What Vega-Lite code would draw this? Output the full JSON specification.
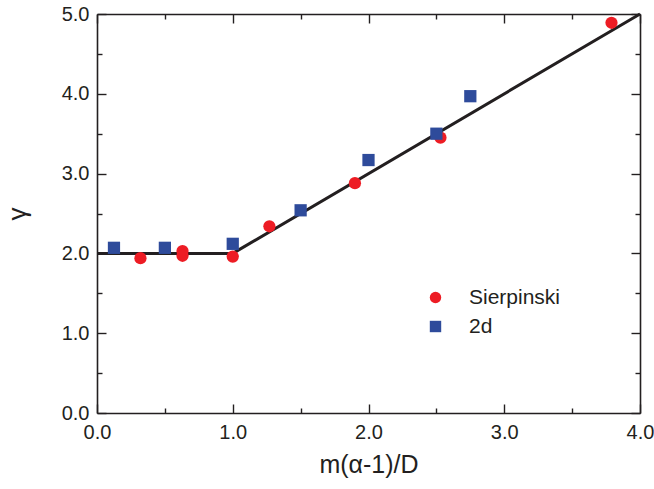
{
  "$schema": "https://vega.github.io/schema/vega-lite/v6.json",
  "width": 543,
  "height": 399,
  "autosize": {"type": "none"},
  "padding": {"left": 97, "top": 14, "right": 14, "bottom": 76},
  "background": "white",
  "config": {
    "view": {"stroke": null},
    "font": "Liberation Sans",
    "axis": {
      "domainColor": "#231f20",
      "domainWidth": 1.6,
      "tickColor": "#231f20",
      "tickWidth": 1.4,
      "grid": false,
      "labelFont": "Liberation Sans",
      "labelFontSize": 20,
      "labelColor": "#231f20",
      "titleFont": "Liberation Sans",
      "titleFontWeight": "normal",
      "titleColor": "#231f20"
    }
  },
  "datasets": {
    "fit": [
      {"x": 0, "y": 2},
      {"x": 1, "y": 2},
      {"x": 4, "y": 5}
    ],
    "pts": [
      {"x": 0.32, "y": 1.94, "series": "Sierpinski"},
      {"x": 0.63, "y": 2.03, "series": "Sierpinski"},
      {"x": 0.63, "y": 1.97, "series": "Sierpinski"},
      {"x": 1.0, "y": 1.96, "series": "Sierpinski"},
      {"x": 1.27, "y": 2.34, "series": "Sierpinski"},
      {"x": 1.9, "y": 2.88, "series": "Sierpinski"},
      {"x": 2.53, "y": 3.45, "series": "Sierpinski"},
      {"x": 3.79, "y": 4.89, "series": "Sierpinski"},
      {"x": 0.125, "y": 2.07, "series": "2d"},
      {"x": 0.5, "y": 2.07, "series": "2d"},
      {"x": 1.0, "y": 2.12, "series": "2d"},
      {"x": 1.5, "y": 2.54, "series": "2d"},
      {"x": 2.0, "y": 3.17, "series": "2d"},
      {"x": 2.5, "y": 3.5, "series": "2d"},
      {"x": 2.75, "y": 3.97, "series": "2d"}
    ]
  },
  "resolve": {"axis": {"x": "independent", "y": "independent"}},
  "layer": [
    {
      "data": {"name": "fit"},
      "mark": {"type": "line", "color": "#231f20", "strokeWidth": 3},
      "encoding": {
        "x": {
          "field": "x", "type": "quantitative",
          "scale": {"domain": [0, 4], "nice": false, "zero": false},
          "axis": {
            "orient": "bottom",
            "values": [0, 0.5, 1, 1.5, 2, 2.5, 3, 3.5, 4],
            "format": ".1f",
            "labelExpr": "datum.value % 1 === 0 ? datum.label : ''",
            "tickSize": {"condition": {"test": "datum.value % 1 !== 0", "value": -5}, "value": -9},
            "labelPadding": 18,
            "labelFlush": false,
            "title": "m(α-1)/D",
            "titleFontSize": 25,
            "titlePadding": 10
          }
        },
        "y": {
          "field": "y", "type": "quantitative",
          "scale": {"domain": [0, 5], "nice": false, "zero": false},
          "axis": {
            "orient": "left",
            "values": [0, 0.5, 1, 1.5, 2, 2.5, 3, 3.5, 4, 4.5, 5],
            "format": ".1f",
            "labelExpr": "datum.value % 1 === 0 ? datum.label : ''",
            "tickSize": {"condition": {"test": "datum.value % 1 !== 0", "value": -5}, "value": -9},
            "labelPadding": 17,
            "labelFlush": false,
            "title": "γ",
            "titleFontSize": 26,
            "titlePadding": 31
          }
        }
      }
    },
    {
      "data": {"name": "pts"},
      "mark": {"type": "point", "filled": true, "opacity": 1, "size": 150},
      "encoding": {
        "x": {
          "field": "x", "type": "quantitative",
          "scale": {"domain": [0, 4], "nice": false, "zero": false},
          "axis": {
            "orient": "top",
            "values": [0, 0.5, 1, 1.5, 2, 2.5, 3, 3.5, 4],
            "labels": false,
            "tickSize": {"condition": {"test": "datum.value % 1 !== 0", "value": -5}, "value": -9},
            "title": null
          }
        },
        "y": {
          "field": "y", "type": "quantitative",
          "scale": {"domain": [0, 5], "nice": false, "zero": false},
          "axis": {
            "orient": "right",
            "values": [0, 0.5, 1, 1.5, 2, 2.5, 3, 3.5, 4, 4.5, 5],
            "labels": false,
            "tickSize": {"condition": {"test": "datum.value % 1 !== 0", "value": -5}, "value": -9},
            "title": null
          }
        },
        "color": {
          "field": "series", "type": "nominal",
          "scale": {"domain": ["Sierpinski", "2d"], "range": ["#ed1c24", "#2e4b9b"]},
          "legend": {
            "title": null,
            "orient": "none",
            "legendX": 328,
            "legendY": 273,
            "labelFontSize": 21,
            "labelFont": "Liberation Sans",
            "labelColor": "#231f20",
            "symbolSize": 130,
            "labelOffset": 23,
            "rowPadding": 7,
            "symbolOpacity": 1
          }
        },
        "shape": {
          "field": "series", "type": "nominal",
          "scale": {"domain": ["Sierpinski", "2d"], "range": ["circle", "square"]},
          "legend": null
        }
      }
    }
  ]
}
